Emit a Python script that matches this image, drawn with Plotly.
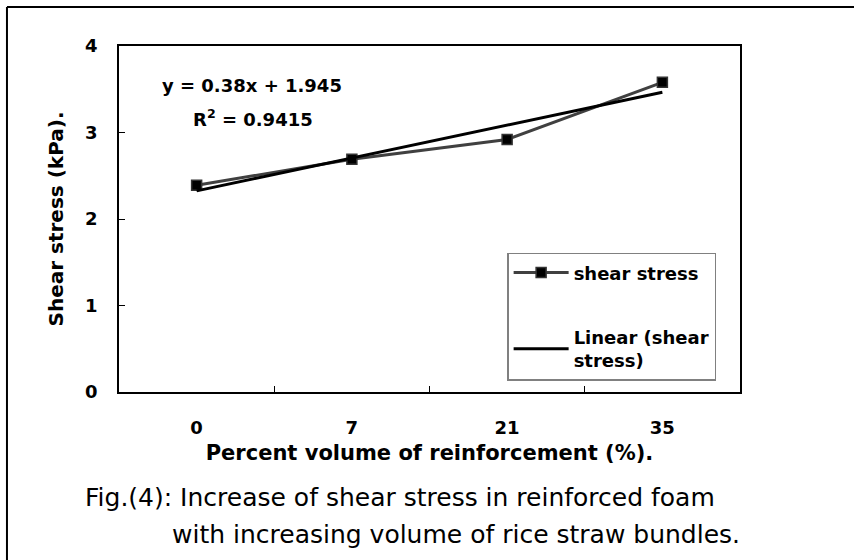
import numpy as np
import plotly.graph_objects as go

# data
volume_labels = ["0", "7", "21", "35"]
shear_stress = [2.39, 2.69, 2.92, 3.58]
y_ticks = [0, 1, 2, 3, 4]

# Excel-style linear trendline (x = 1..n for a category axis)
idx = np.arange(1, len(shear_stress) + 1)
slope, intercept = np.polyfit(idx, shear_stress, 1)
trend = slope * idx + intercept
ss_res = np.sum((np.array(shear_stress) - trend) ** 2)
ss_tot = np.sum((np.array(shear_stress) - np.mean(shear_stress)) ** 2)
r2 = 1 - ss_res / ss_tot

BOLD = "DejaVu Sans"
fig = go.Figure()

fig.add_trace(go.Scatter(
    x=volume_labels, y=shear_stress, mode="lines+markers", name="shear stress",
    line=dict(color="#404040", width=3),
    marker=dict(symbol="square", size=10, color="black", line=dict(color="#333333", width=1.5)),
    legendgroup="a",
))
fig.add_trace(go.Scatter(
    x=volume_labels, y=trend, mode="lines", name="Linear (shear<br>stress)",
    line=dict(color="black", width=3),
    legendgroup="b",
))

fig.update_layout(
    width=854, height=560,
    margin=dict(l=119, r=114, t=46, b=168),
    paper_bgcolor="white", plot_bgcolor="white",
    font=dict(family=BOLD, size=18, color="black", weight="bold"),
    showlegend=True,
    legend=dict(
        x=0.625, y=0.402, xanchor="left", yanchor="top",
        bgcolor="white", bordercolor="#808080", borderwidth=1.5,
        font=dict(family=BOLD, size=18, weight="bold"),
        traceorder="grouped", tracegroupgap=38, itemwidth=55,
    ),
    xaxis=dict(
        type="category", range=[-0.5, 3.5], tickson="boundaries", ticks="inside", ticklen=6,
        tickcolor="black", showline=True, linecolor="black", linewidth=1.5,
        mirror=True, showgrid=False, zeroline=False, ticklabelstandoff=19,
        title=dict(text="Percent volume of reinforcement (%).",
                   font=dict(family=BOLD, size=21, weight="bold"), standoff=8),
    ),
    yaxis=dict(
        range=[0, 4], tickvals=y_ticks, ticks="inside", ticklen=6,
        tickcolor="black", showline=True, linecolor="black", linewidth=1.5,
        mirror=True, showgrid=False, zeroline=False, ticklabelstandoff=16,
        title=dict(text="Shear stress (kPa).",
                   font=dict(family=BOLD, size=20, weight="bold"), standoff=16),
    ),
)

# trendline equation
fig.add_annotation(
    x=0.214, y=0.887, xref="paper", yref="paper", xanchor="center", yanchor="middle",
    showarrow=False, text=f"y = {slope:.2f}x + {intercept:.3f}",
    font=dict(family=BOLD, size=18, weight="bold"),
)
fig.add_annotation(
    x=0.216, y=0.792, xref="paper", yref="paper", xanchor="center", yanchor="middle",
    showarrow=False, text=f"R<sup>2</sup> = {r2:.4f}",
    font=dict(family=BOLD, size=18, weight="bold"),
)

# figure caption
fig.add_annotation(
    x=-0.058, y=-0.306, xref="paper", yref="paper", xanchor="left", yanchor="middle",
    showarrow=False, text="Fig.(4): Increase of shear stress in reinforced foam",
    font=dict(family="DejaVu Sans", size=25, weight="normal"),
)
fig.add_annotation(
    x=0.082, y=-0.413, xref="paper", yref="paper", xanchor="left", yanchor="middle",
    showarrow=False, text="with increasing volume of rice straw bundles.",
    font=dict(family="DejaVu Sans", size=25, weight="normal"),
)

# outer frame (left and top edges visible in the reference)
fig.add_shape(type="line", xref="paper", yref="paper", x0=-0.1804, x1=-0.1804, y0=1.1127, y1=-0.6,
              line=dict(color="black", width=2))
fig.add_shape(type="line", xref="paper", yref="paper", x0=-0.1804, x1=1.3, y0=1.1127, y1=1.1127,
              line=dict(color="black", width=2))

fig.write_html("out.html", config={"displayModeBar": False},
               post_script="document.body.style.margin='0';")
